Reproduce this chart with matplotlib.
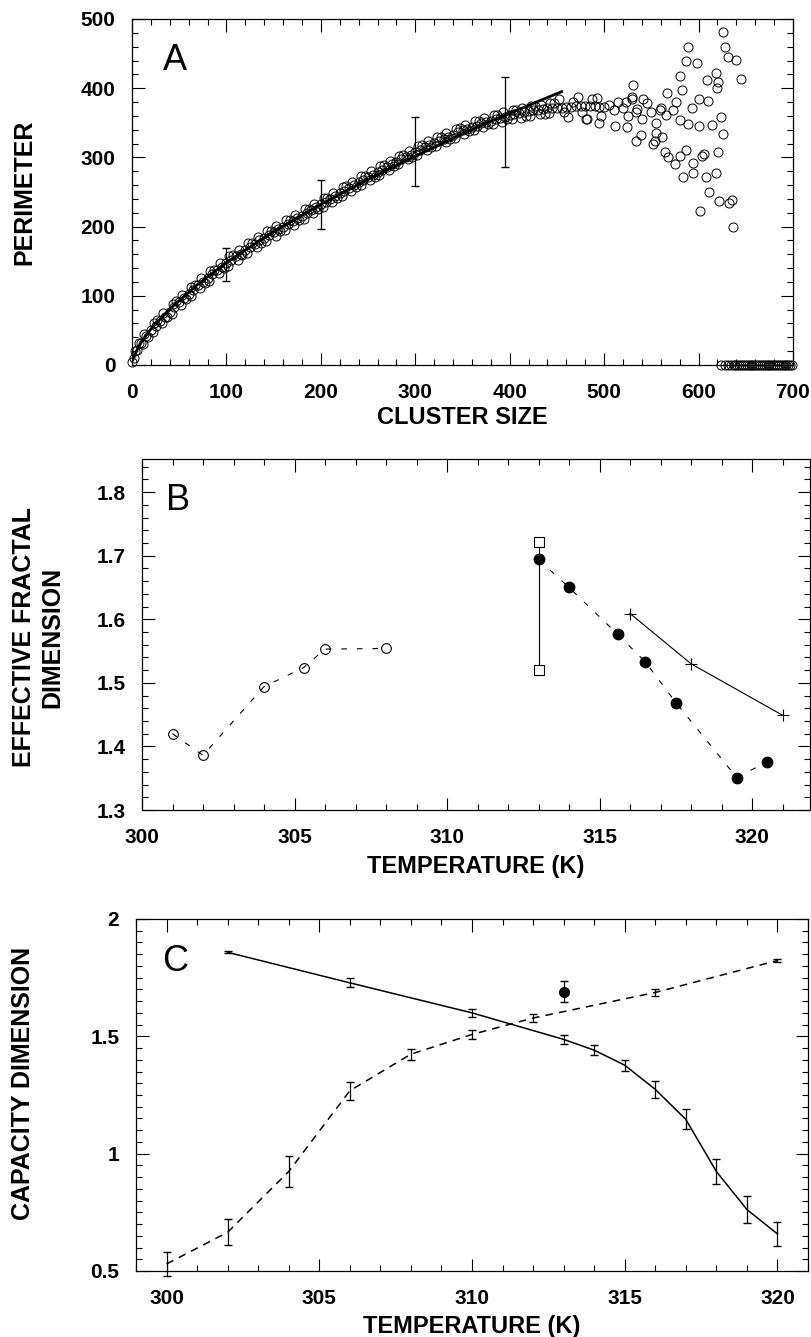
import numpy as np
import matplotlib.pyplot as plt
from matplotlib.ticker import MultipleLocator

plt.rcParams['font.family'] = ['Liberation Sans', 'DejaVu Sans']
plt.rcParams['font.weight'] = 'bold'

# ---- panel A: perimeter vs cluster size ----
band_x = [0, 2, 5, 10, 15, 20, 25, 30, 35, 40, 45, 50, 55, 60, 65, 70, 75, 80, 85, 90,
          95, 100, 105, 110, 115, 120, 125, 130, 135, 140, 145, 150, 155, 160, 165, 170,
          175, 180, 185, 190, 195, 200, 205, 210, 215, 220, 225, 230, 235, 240, 245, 250,
          255, 260, 265, 270, 275, 280, 285, 290, 295, 300, 305, 310, 315, 320, 325, 330,
          335, 340, 345, 350, 355, 360, 365, 370, 375, 380, 385, 390, 395, 400, 405, 410,
          415, 420, 425, 430, 435, 440, 445, 450, 455, 460, 465, 470, 475, 480, 485, 490,
          495, 500]
band_y = [5, 10, 22, 32, 42, 50, 57, 64, 70, 77, 84, 91, 97, 103, 109, 115, 120, 126, 131, 137,
          142, 147, 152, 157, 161, 166, 171, 175, 180, 184, 188, 192, 196, 200, 204, 208,
          212, 216, 220, 224, 228, 232, 236, 240, 244, 248, 252, 256, 260, 264, 267, 271,
          275, 279, 282, 286, 290, 294, 297, 301, 304, 308, 311, 315, 318, 321, 324, 327,
          330, 333, 336, 339, 341, 344, 346, 349, 351, 353, 355, 357, 359, 361, 362, 364,
          365, 367, 368, 369, 370, 371, 371, 372, 372, 373, 373, 374, 374, 374, 374, 374,
          373, 373]
band2_x = [7, 17, 27, 37, 47, 57, 67, 77, 87, 97, 107, 117, 127, 137, 147, 157, 167, 177,
           187, 197, 207, 217, 227, 237, 247, 257, 267, 277, 287, 297, 307, 317, 327, 337,
           347, 357, 367, 377, 387, 397, 407, 417, 427, 437, 447, 457, 467, 477, 487, 497]
band2_y = [32, 41, 65, 69, 92, 96, 116, 118, 138, 140, 159, 159, 177, 177, 194, 193, 210, 209,
           226, 225, 242, 241, 258, 257, 273, 272, 289, 287, 303, 301, 318, 315, 330, 327,
           342, 338, 352, 348, 361, 356, 368, 360, 374, 362, 378, 365, 380, 366, 384, 360]
band3_x = [12, 22, 32, 42, 52, 62, 72, 82, 92, 102, 112, 122, 132, 142, 152, 162, 172, 182,
           192, 202, 212, 222, 232, 242, 252, 262, 272, 282, 292, 302, 312, 322, 332, 342,
           352, 362, 372, 382, 392, 402, 412, 422, 432, 442, 452, 462, 472, 482, 492]
band3_y = [30, 47, 61, 74, 87, 99, 111, 122, 133, 143, 152, 162, 171, 179, 187, 195, 203, 211,
           219, 228, 236, 244, 252, 260, 267, 275, 282, 290, 297, 304, 311, 317, 322, 328,
           334, 339, 344, 348, 351, 355, 357, 360, 362, 364, 385, 358, 388, 356, 386]
band4_x = [3, 13, 23, 33, 43, 53, 63, 73, 83, 93, 103, 113, 123, 133, 143, 153, 163, 173,
           183, 193, 203, 213, 223, 233, 243, 253, 263, 273, 283, 293, 303, 313, 323, 333,
           343, 353, 363, 373, 383, 393, 403, 413, 423, 433, 443]
band4_y = [20, 45, 61, 75, 88, 101, 113, 125, 136, 147, 157, 166, 176, 185, 193, 201, 209, 217,
           225, 233, 241, 249, 257, 265, 273, 280, 288, 295, 302, 309, 316, 323, 329, 335,
           341, 347, 352, 357, 361, 365, 368, 371, 374, 376, 378]
scat_x = [505, 510, 515, 520, 525, 530, 535, 540, 545, 550, 555, 560, 481, 495, 511, 523, 524,
          529, 531, 534, 534, 539, 541, 552, 554, 555, 559, 561, 564, 566, 567, 568, 573, 575,
          576, 580, 580, 580, 582, 584, 587, 587, 589, 589, 593, 594, 594, 598, 600, 600, 602,
          604, 606, 608, 609, 610, 611, 614, 618, 618, 619, 621, 621, 622, 624, 626, 626, 628,
          631, 632, 635, 636, 640, 645]
scat_y = [375, 368, 380, 372, 360, 385, 370, 356, 378, 366, 350, 372, 356, 349, 345, 380, 344,
          388, 405, 366, 323, 332, 384, 320, 323, 335, 368, 330, 308, 361, 393, 301, 368, 290,
          380, 417, 354, 302, 398, 271, 440, 311, 459, 348, 371, 292, 278, 436, 384, 345, 223,
          302, 305, 272, 412, 382, 250, 347, 277, 422, 400, 409, 308, 237, 358, 481, 334, 459,
          445, 234, 238, 199, 441, 413]
zero_x = [624, 628, 631, 634, 637, 639, 641, 643, 645, 647, 649, 651, 653, 655, 657, 659, 661,
          663, 665, 667, 669, 671, 673, 675, 677, 679, 681, 683, 685, 687, 689, 691, 693, 695,
          697, 699]
fit_x = [1, 5, 10, 20, 40, 70, 100, 150, 200, 250, 300, 350, 400, 455]
fit_y = [7.5, 21, 33, 52, 81, 117, 148, 193, 232, 268, 302, 334, 364, 395]
errA_x = [100, 200, 300, 395]
errA_y = [145, 232, 308, 351]
errA_e = [24, 36, 50, 65]

# ---- panel B: effective fractal dimension ----
b_open_T = [301, 302, 304, 305.3, 306, 308]
b_open_D = [1.420, 1.386, 1.494, 1.524, 1.553, 1.554]
b_sq_T = [313, 313]
b_sq_D = [1.721, 1.520]
b_fill_T = [313, 314, 315.6, 316.5, 317.5, 319.5, 320.5]
b_fill_D = [1.694, 1.650, 1.576, 1.533, 1.469, 1.351, 1.376]
b_plus_T = [316, 318, 321]
b_plus_D = [1.609, 1.530, 1.449]

# ---- panel C: capacity dimension ----
c_sol_T = [302, 306, 310, 313, 314, 315, 316, 317, 318, 319, 320]
c_sol_D = [1.858, 1.728, 1.600, 1.487, 1.441, 1.377, 1.274, 1.146, 0.924, 0.762, 0.658]
c_sol_E = [0.005, 0.019, 0.018, 0.020, 0.022, 0.024, 0.036, 0.043, 0.055, 0.057, 0.050]
c_dash_T = [300, 302, 304, 306, 308, 310, 312, 316, 320]
c_dash_D = [0.530, 0.665, 0.924, 1.268, 1.424, 1.508, 1.578, 1.687, 1.823]
c_dash_E = [0.050, 0.055, 0.064, 0.039, 0.024, 0.021, 0.016, 0.014, 0.006]
c_pt_T = [313]
c_pt_D = [1.691]
c_pt_E = [0.045]

W, H = 811, 1337
fig = plt.figure(figsize=(W / 100, H / 100), dpi=100)


def box(l, t, r, b):
    return [l / W, 1 - b / H, (r - l) / W, (b - t) / H]


def style(ax):
    ax.tick_params(which='both', direction='in', top=True, right=True, width=0.8,
                   labelsize=15)
    ax.tick_params(which='major', length=9)
    ax.tick_params(which='minor', length=4.5)
    ax.tick_params(axis='x', pad=13)
    ax.tick_params(axis='y', pad=12)
    for s in ax.spines.values():
        s.set_linewidth(0.9)


def letter(ax, x, y, s):
    ax.text(x, y, s, transform=ax.transAxes, fontsize=26, fontweight='normal',
            ha='left', va='center')


# A
axA = fig.add_axes(box(132, 19, 793, 365))
for xs, ys in [(band_x, band_y), (band2_x, band2_y), (band3_x, band3_y),
               (band4_x, band4_y), (scat_x, scat_y), (zero_x, [0] * len(zero_x))]:
    axA.plot(xs, ys, 'o', mfc='none', mec='k', ms=6.5, mew=0.7, clip_on=False)
axA.plot(fit_x, fit_y, '-', color='k', lw=2)
axA.errorbar(errA_x, errA_y, yerr=errA_e, fmt='none', ecolor='k', elinewidth=0.9, capsize=3)
axA.set_xlim(0, 700)
axA.set_ylim(0, 500)
axA.xaxis.set_major_locator(MultipleLocator(100))
axA.xaxis.set_minor_locator(MultipleLocator(20))
axA.yaxis.set_major_locator(MultipleLocator(100))
axA.yaxis.set_minor_locator(MultipleLocator(20))
style(axA)
letter(axA, 0.047, 0.879, 'A')

# B
axB = fig.add_axes(box(142, 459, 810, 810))
axB.plot(b_open_T, b_open_D, 'o', mfc='none', mec='k', ms=7, mew=0.8,
         ls=(0, (5, 9)), color='k', lw=0.8)
axB.plot(b_sq_T, b_sq_D, 's', mfc='white', mec='k', ms=7, mew=0.8, ls='-', color='k', lw=0.8)
axB.plot(b_fill_T, b_fill_D, 'o', mfc='k', mec='k', ms=7.5, ls=(0, (5, 9)), color='k', lw=0.8)
axB.plot(b_plus_T, b_plus_D, '+', mec='k', ms=9, mew=0.8, ls='-', color='k', lw=0.8, clip_on=False)
axB.set_xlim(300, 321.9)
axB.set_ylim(1.3, 1.852)
axB.xaxis.set_major_locator(MultipleLocator(5))
axB.xaxis.set_minor_locator(MultipleLocator(1))
axB.yaxis.set_major_locator(MultipleLocator(0.1))
axB.yaxis.set_minor_locator(MultipleLocator(0.02))
style(axB)
letter(axB, 0.036, 0.883, 'B')

# C
axC = fig.add_axes(box(136, 919, 808, 1271))
axC.errorbar(c_sol_T, c_sol_D, yerr=c_sol_E, fmt='-', color='k', lw=1.1,
             elinewidth=0.9, capsize=3)
axC.errorbar(c_dash_T, c_dash_D, yerr=c_dash_E, fmt='-', color='k', lw=1.1,
             elinewidth=0.9, capsize=3, ls=(0, (5, 4)), clip_on=False)
axC.errorbar(c_pt_T, c_pt_D, yerr=c_pt_E, fmt='o', color='k', ms=7,
             elinewidth=0.9, capsize=3)
axC.set_xlim(299, 321)
axC.set_ylim(0.5, 2)
axC.xaxis.set_major_locator(MultipleLocator(5))
axC.xaxis.set_minor_locator(MultipleLocator(1))
axC.set_yticks([0.5, 1, 1.5, 2])
axC.set_yticklabels(['0.5', '1', '1.5', '2'])
axC.yaxis.set_minor_locator(MultipleLocator(0.05))
style(axC)
letter(axC, 0.039, 0.878, 'C')

# axis titles
fig.text(24 / W, 1 - 192 / H, 'PERIMETER', rotation=90, ha='center', va='center', fontsize=18)
fig.text(38 / W, 1 - 637 / H, 'EFFECTIVE FRACTAL\nDIMENSION', rotation=90, ha='center',
         va='center', fontsize=18, linespacing=1.2)
fig.text(23 / W, 1 - 1083 / H, 'CAPACITY DIMENSION', rotation=90, ha='center', va='center',
         fontsize=18)
fig.text(462 / W, 1 - 418 / H, 'CLUSTER SIZE', ha='center', va='center', fontsize=17)
fig.text(476 / W, 1 - 867 / H, 'TEMPERATURE (K)', ha='center', va='center', fontsize=17)
fig.text(472 / W, 1 - 1326 / H, 'TEMPERATURE (K)', ha='center', va='center', fontsize=17)

fig.savefig('out.png', dpi=100)
